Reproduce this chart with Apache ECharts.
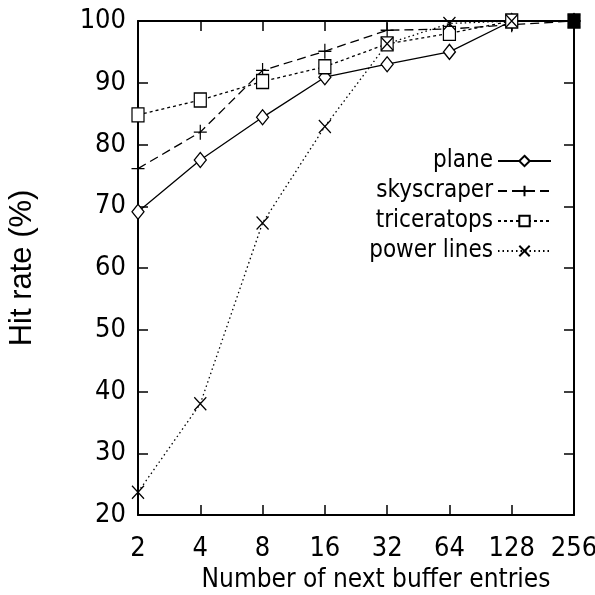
<!DOCTYPE html>
<html>
<head>
<meta charset="utf-8">
<script src="https://cdn.jsdelivr.net/npm/echarts@6/dist/echarts.min.js"></script>
<style>
  html, body { margin: 0; padding: 0; background: #fff; }
  #chart { width: 595px; height: 595px; }
</style>
</head>
<body>
<div id="chart"></div>
<script>
const bufferEntries = ['2', '4', '8', '16', '32', '64', '128', '256']
const plane = [69.1, 77.5, 84.4, 90.9, 93.0, 95.0, 100, 100]
const skyscraper = [76.1, 82.0, 92.0, 95.1, 98.5, 98.7, 99.4, 100]
const triceratops = [84.8, 87.2, 90.2, 92.6, 96.3, 98.0, 100, 100]
const powerLines = [23.7, 38.0, 67.3, 82.9, 96.3, 99.6, 100, 100]

const FONT = "'Liberation Sans Narrow', 'DejaVu Sans Condensed', sans-serif"

const chart = echarts.init(document.getElementById('chart'))

const mkSeries = (name, values, symbol, size, dash) => ({
  name,
  type: 'line',
  data: values,
  symbol,
  symbolSize: size,
  showAllSymbol: true,
  lineStyle: { color: '#000', width: 1.3, type: dash },
  itemStyle: { color: '#fff', borderColor: '#000', borderWidth: 1.3 },
  emphasis: { disabled: true },
  z: 3
})

const series = [
  mkSeries('plane', plane, 'diamond', [12, 15], 'solid'),
  mkSeries('skyscraper', skyscraper, 'path://M0,5L10,5M5,0L5,10', [13, 15], [9, 5]),
  mkSeries('triceratops', triceratops, 'rect', [12, 14], [3, 3]),
  mkSeries('power lines', powerLines, 'path://M0,0L10,10M10,0L0,10', [12, 13], [1.5, 3])
]
// the 256 corner is drawn as a solid block in the original
series[2].data = triceratops.map((v, i) =>
  i === triceratops.length - 1 ? { value: v, itemStyle: { color: '#000' } } : v)

const tickStyle = { show: true, inside: true, length: 10, interval: 0, lineStyle: { color: '#000', width: 1.5 } }
const axisLine = { show: true, onZero: false, lineStyle: { color: '#000', width: 2 } }

chart.setOption({
  animation: false,
  backgroundColor: '#fff',
  grid: { left: 138, right: 21, top: 21, bottom: 80, outerBoundsMode: 'none' },
  legend: {
    data: series.map(s => s.name),
    orient: 'vertical',
    align: 'right',
    right: 38,
    top: 141,
    itemWidth: 53,
    itemHeight: 13,
    itemGap: 0,
    textStyle: { fontFamily: FONT, fontSize: 24, color: '#000', lineHeight: 30 }
  },
  xAxis: [
    {
      type: 'category',
      data: bufferEntries,
      boundaryGap: false,
      name: 'Number of next buffer entries',
      nameLocation: 'middle',
      nameGap: 52,
      nameTextStyle: { fontFamily: FONT, fontSize: 26, color: '#000', padding: [0, 0, 0, 40] },
      axisLine,
      axisTick: tickStyle,
      axisLabel: { interval: 0, fontFamily: FONT, fontSize: 27, color: '#000', margin: 20 },
      splitLine: { show: false }
    },
    {
      type: 'category',
      data: bufferEntries,
      boundaryGap: false,
      position: 'top',
      axisLine,
      axisTick: tickStyle,
      axisLabel: { show: false },
      splitLine: { show: false }
    }
  ],
  yAxis: [
    {
      type: 'value',
      min: 20,
      max: 100,
      interval: 10,
      name: 'Hit rate (%)',
      nameLocation: 'middle',
      nameGap: 100,
      nameTextStyle: { fontFamily: "'Liberation Sans', sans-serif", fontSize: 31, color: '#000' },
      axisLine,
      axisTick: tickStyle,
      axisLabel: { fontFamily: FONT, fontSize: 27, color: '#000', margin: 12 },
      splitLine: { show: false }
    },
    {
      type: 'value',
      min: 20,
      max: 100,
      interval: 10,
      position: 'right',
      axisLine,
      axisTick: tickStyle,
      axisLabel: { show: false },
      splitLine: { show: false }
    }
  ],
  series
})
</script>
</body>
</html>
